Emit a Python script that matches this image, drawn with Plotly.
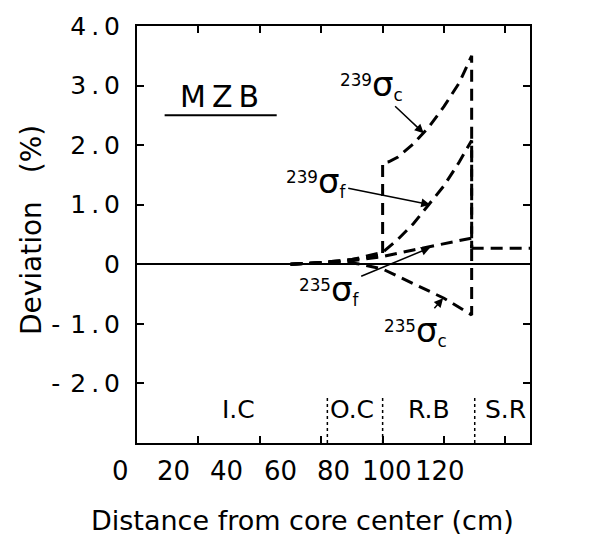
import plotly.graph_objects as go

# Radial distance (cm) and deviation (%) for each cross section
x_239c = [50, 60, 70, 80, 80, 82, 85, 90, 95, 100, 105, 109, 109]
y_239c = [0.0, 0.03, 0.08, 0.15, 1.70, 1.72, 1.80, 2.02, 2.30, 2.65, 3.05, 3.50, 0.27]

x_239f = [50, 60, 70, 80, 85, 90, 95, 100, 105, 109, 109]
y_239f = [0.0, 0.03, 0.08, 0.20, 0.42, 0.68, 1.00, 1.32, 1.72, 2.08, 0.27]

x_235f = [50, 60, 70, 80, 90, 100, 109, 109]
y_235f = [0.0, 0.02, 0.06, 0.13, 0.24, 0.34, 0.44, 0.27]

x_235c = [50, 60, 70, 73, 80, 90, 100, 109, 109]
y_235c = [0.0, 0.03, 0.02, 0.0, -0.08, -0.33, -0.57, -0.85, 0.27]

# Shielding region (common value)
x_sr = [109, 128]
y_sr = [0.27, 0.27]

# Region boundaries and labels
boundaries = [62, 80, 110]
region_names = ["I.C", "O.C", "R.B", "S.R"]
region_x = [33, 70, 95, 120]

x_ticks = [0, 20, 40, 60, 80, 100, 120]
y_ticks = [-2, -1, 0, 1, 2, 3, 4]
y_ticktext = ["-\u2009\u20092\u2009.\u20090", "-\u2009\u20091\u2009.\u20090", "0",
              "1\u2009.\u20090", "2\u2009.\u20090", "3\u2009.\u20090", "4\u2009.\u20090"]

FONT = "DejaVu Sans"
W, H = 598, 544
ML, MR, MT, MB = 137, 68, 18, 101
PW = W - ML - MR
PH = H - MT - MB
X_RANGE = [0, 128]


def px_to_paper_x(px):
    return (px - ML) / PW


def px_to_paper_y(py):
    return 1 - (py - MT) / PH


dash = "12px,7px"
fig = go.Figure()
for xs, ys, name in [
    (x_239c, y_239c, "239σc"),
    (x_239f, y_239f, "239σf"),
    (x_235f, y_235f, "235σf"),
    (x_235c, y_235c, "235σc"),
    (x_sr, y_sr, "S.R"),
]:
    fig.add_trace(go.Scatter(x=xs, y=ys, mode="lines", name=name,
                             line=dict(color="black", width=3, dash=dash),
                             hoverinfo="skip", showlegend=False))

shapes = []
for b in boundaries:
    shapes.append(dict(type="line", xref="x", yref="y", x0=b, x1=b, y0=-3, y1=-2.2,
                       line=dict(color="black", width=1.5, dash="3px,3px")))
# underline of MZB
shapes.append(dict(type="line", xref="x", yref="y", x0=9, x1=45.5, y0=2.5, y1=2.5,
                   line=dict(color="black", width=2)))

ann = []
ann.append(dict(x=27, y=2.82, xref="x", yref="y", text="M\u2009Z\u2009B", showarrow=False,
                font=dict(family=FONT, size=30, color="black")))


def sig(iso, sub):
    return ("<sup>%s</sup><span style='font-size:34px'>σ</span><sub>%s</sub>" % (iso, sub))


lab_font = dict(family=FONT, size=24, color="black")
# curve labels with pointers: (isotope, reaction, head x, head y, text offset px)
for iso, sub, hx, hy, ax, ay in [
    ("239", "c", 93.4, 2.2, -52, -49),
    ("239", "f", 95.5, 1.0, -114, -23),
    ("235", "f", 95.5, 0.28, -101, 42),
    ("235", "c", 99.7, -0.57, -28, 32),
]:
    ann.append(dict(x=hx, y=hy, xref="x", yref="y", text=sig(iso, sub), showarrow=True,
                    ax=ax, ay=ay, arrowhead=2, arrowsize=1.2, arrowwidth=1.5,
                    arrowcolor="black", standoff=0, font=lab_font))

for nm, rx in zip(region_names, region_x):
    ann.append(dict(x=rx, y=-2.44, xref="x", yref="y", text=nm, showarrow=False,
                    font=dict(family=FONT, size=25, color="black")))

# hand-lettered x tick labels sit on a slightly compressed scale
for t in x_ticks:
    xd = -5.5 + 0.8687 * t
    ann.append(dict(x=(xd - X_RANGE[0]) / (X_RANGE[1] - X_RANGE[0]), y=px_to_paper_y(472),
                    xref="paper", yref="paper", xanchor="center", yanchor="middle",
                    text=str(t), showarrow=False,
                    font=dict(family=FONT, size=26, color="black")))

# axis titles
ann.append(dict(x=px_to_paper_x(302), y=px_to_paper_y(522), xref="paper", yref="paper",
                xanchor="center", yanchor="middle",
                text="Distance from core center (cm)", showarrow=False,
                font=dict(family=FONT, size=27, color="black")))
ann.append(dict(x=px_to_paper_x(31), y=px_to_paper_y(226), xref="paper", yref="paper",
                xanchor="center", yanchor="middle",
                text="Deviation\u2003(%)", textangle=-90, showarrow=False,
                font=dict(family=FONT, size=28, color="black")))

fig.update_layout(
    width=W, height=H,
    margin=dict(l=ML, r=MR, t=MT, b=MB),
    paper_bgcolor="white", plot_bgcolor="white",
    shapes=shapes, annotations=ann,
    xaxis=dict(range=X_RANGE, tickvals=x_ticks,
               showticklabels=False, ticks="inside", ticklen=7, tickwidth=2,
               tickcolor="black", showline=True, linewidth=2, linecolor="black",
               mirror="allticks", showgrid=False, zeroline=False),
    yaxis=dict(range=[-3, 4], tickvals=y_ticks, ticktext=y_ticktext,
               ticks="inside", ticklen=7, tickwidth=2, tickcolor="black",
               showline=True, linewidth=2, linecolor="black", mirror="allticks",
               showgrid=False, zeroline=True, zerolinecolor="black", zerolinewidth=1.5,
               ticklabelstandoff=10,
               tickfont=dict(family=FONT, size=25, color="black")),
)

fig.write_html("out.html")
